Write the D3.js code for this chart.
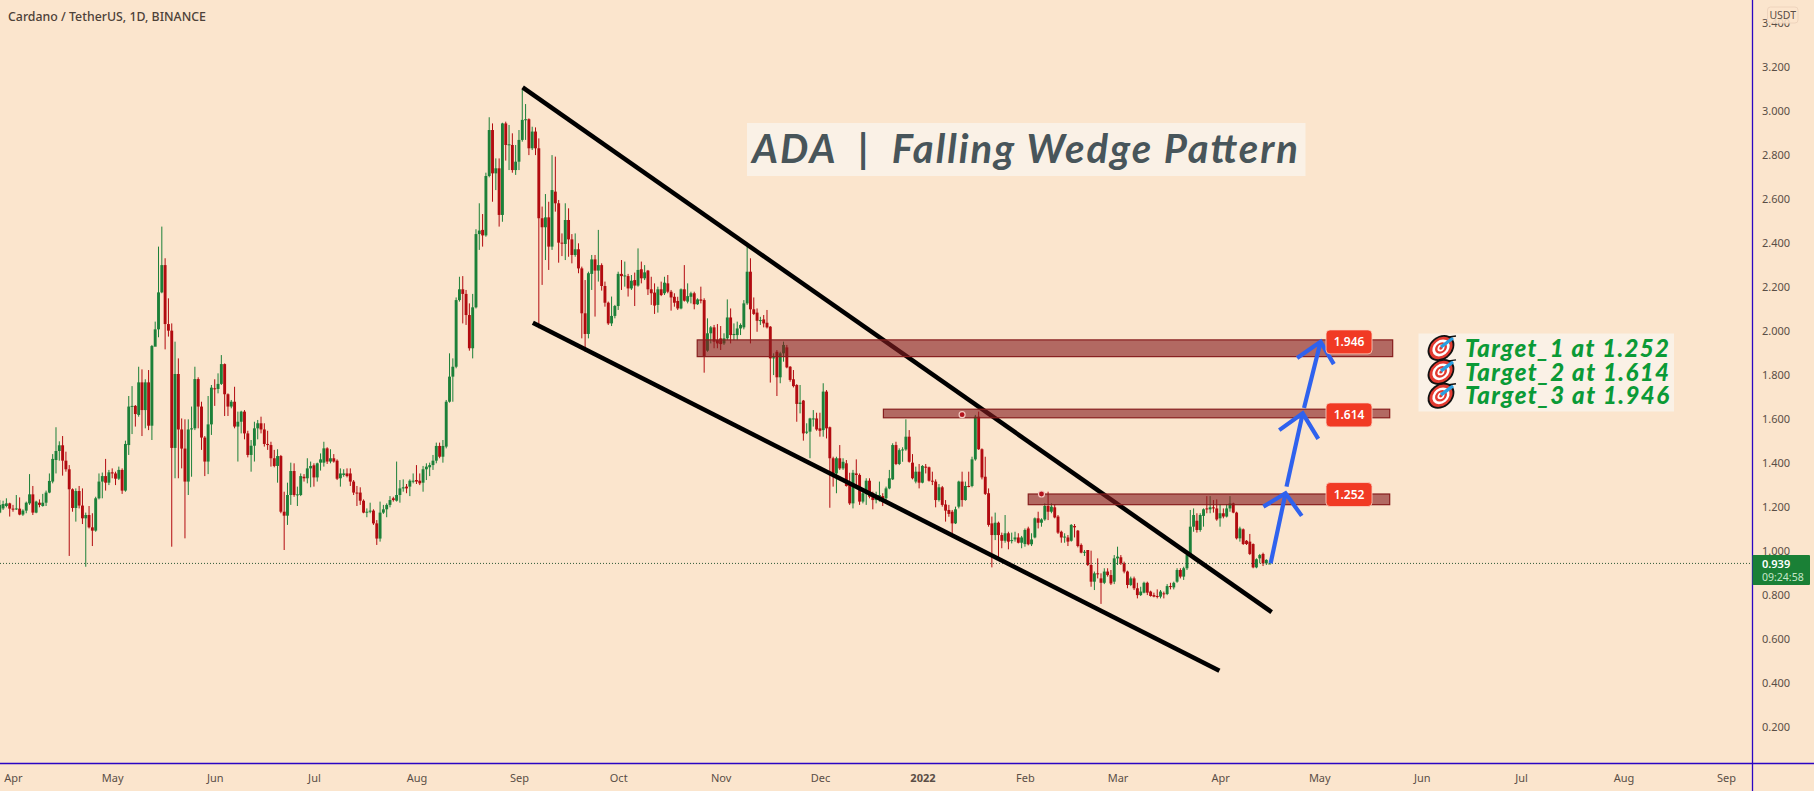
<!DOCTYPE html>
<html>
<head>
<meta charset="utf-8">
<script src="https://cdn.jsdelivr.net/npm/d3@7"></script>
<style>
	html, body { margin: 0; padding: 0; background: #fbe5cd; overflow: hidden; }
	svg { display: block; }
	text { font-family: "Noto Sans", sans-serif; }
</style>
</head>
<body>
<svg id="chart" width="1814" height="791"></svg>
<script>
// daily candles, first one is 28 Mar 2021
const firstCandle = Date.UTC(2021, 2, 28);
const opens = [
	1.170,1.189,1.200,1.212,1.188,1.185,1.188,1.161,1.179,1.212,
	1.253,1.170,1.215,1.200,1.215,1.261,1.311,1.409,1.450,1.476,
	1.406,1.367,1.276,1.191,1.268,1.202,1.144,1.159,1.103,1.088,
	1.235,1.311,1.336,1.306,1.353,1.348,1.324,1.364,1.270,1.477,
	1.652,1.655,1.614,1.762,1.636,1.762,1.565,1.924,2.003,2.171,
	2.295,2.027,1.997,1.464,1.800,1.548,1.461,1.311,1.548,1.553,
	1.777,1.652,1.511,1.402,1.571,1.735,1.732,1.755,1.845,1.708,
	1.652,1.674,1.561,1.583,1.629,1.530,1.432,1.474,1.553,1.576,
	1.548,1.482,1.477,1.417,1.382,1.427,1.174,1.156,1.250,1.359,
	1.250,1.250,1.333,1.326,1.371,1.385,1.330,
	1.397,1.397,1.462,1.402,1.417,1.406,1.326,1.341,1.348,1.348,
	1.311,1.261,1.261,1.224,1.170,1.174,1.179,1.121,1.052,1.170,
	1.185,1.205,1.235,1.224,1.250,1.280,1.288,1.288,1.311,1.318,
	1.315,1.306,1.367,1.376,1.386,1.406,1.473,1.424,1.470,1.674,
	1.788,1.833,2.136,2.185,2.164,2.068,1.917,2.103,2.436,2.455,
	2.430,2.700,2.909,2.712,2.735,2.523,2.939,2.841,2.841,2.727,
	2.765,2.864,2.955,2.958,2.826,2.902,2.826,2.508,2.467,2.512,
	2.379,2.629,2.576,2.397,2.391,2.500,2.412,2.341,2.367,2.280,
	2.076,1.982,2.255,2.321,2.270,2.295,2.200,2.124,2.030,2.064,
	2.109,2.255,2.245,2.245,2.189,2.227,2.202,
	2.276,2.235,2.270,2.185,2.170,2.114,2.185,2.167,2.212,2.174,
	2.151,2.132,2.098,2.185,2.129,2.151,2.167,2.117,2.139,2.136,
	1.906,1.985,2.012,1.954,1.962,1.939,1.962,2.057,1.977,1.977,
	2.007,2.012,2.121,2.265,2.094,2.079,2.042,2.048,2.033,2.015,
	1.871,1.901,1.785,1.894,1.921,1.833,1.776,1.750,1.664,1.679,
	1.533,1.538,1.598,1.598,1.553,1.545,1.720,1.558,1.417,1.348,
	1.417,1.371,1.394,1.303,1.212,1.348,1.341,1.220,1.254,1.315,
	1.258,1.227,1.242,1.245,1.235,1.280,1.321,1.477,1.391,1.454,
	1.457,1.515,1.397,1.311,1.356,1.306,1.379,1.376,1.315,1.311,
	1.227,1.285,1.207,1.182,1.174,1.121,1.197,
	1.311,1.227,1.291,1.291,1.412,1.606,1.458,1.333,1.258,1.121,
	1.068,1.124,1.068,1.042,1.076,1.042,1.048,1.057,1.033,1.027,
	1.098,1.026,1.057,1.144,1.124,1.139,1.200,1.174,1.194,1.152,
	1.083,1.057,1.057,1.042,1.109,1.088,1.023,0.988,1.000,0.932,
	0.856,0.894,0.871,0.851,0.902,0.886,0.856,0.962,0.967,0.939,
	0.902,0.841,0.871,0.826,0.795,0.806,0.851,0.811,0.795,0.791,
	0.788,0.803,0.800,0.836,0.830,0.856,0.909,0.879,0.917,0.977,
	1.106,1.133,1.091,1.155,1.189,1.185,1.194,1.189,1.144,1.167,
	1.152,1.189,1.212,1.170,1.053,1.094,1.042,1.038,1.027,0.921,
	0.962,0.982,0.939,0.939
];
const highs = [
	1.227,1.224,1.235,1.215,1.205,1.250,1.239,1.185,1.220,1.345,
	1.291,1.224,1.230,1.255,1.270,1.348,1.436,1.558,1.494,1.518,
	1.447,1.386,1.280,1.280,1.291,1.280,1.170,1.200,1.167,1.242,
	1.348,1.352,1.414,1.364,1.371,1.356,1.379,1.371,1.497,1.700,
	1.745,1.659,1.833,1.821,1.776,1.818,1.932,2.038,2.379,2.470,
	2.326,2.144,2.030,1.947,1.871,1.598,1.594,1.594,1.652,1.833,
	1.785,1.674,1.518,1.700,1.750,1.776,1.803,1.886,1.848,1.712,
	1.682,1.742,1.629,1.633,1.636,1.542,1.500,1.583,1.591,1.606,
	1.576,1.542,1.492,1.455,1.458,1.432,1.265,1.306,1.397,1.394,
	1.288,1.348,1.345,1.417,1.402,1.394,1.397,
	1.439,1.492,1.467,1.458,1.436,1.412,1.371,1.367,1.371,1.371,
	1.318,1.291,1.285,1.230,1.189,1.215,1.185,1.136,1.220,1.205,
	1.212,1.245,1.242,1.402,1.318,1.321,1.300,1.321,1.348,1.386,
	1.348,1.382,1.394,1.397,1.432,1.488,1.488,1.500,1.682,1.894,
	1.871,2.148,2.242,2.245,2.182,2.121,2.164,2.458,2.576,2.527,
	2.715,2.967,2.939,2.780,2.780,2.942,2.947,2.932,2.894,2.841,
	2.909,3.091,3.027,2.962,2.924,2.921,2.871,2.561,2.618,2.583,
	2.795,2.788,2.591,2.439,2.576,2.553,2.436,2.439,2.394,2.288,
	2.227,2.265,2.341,2.341,2.455,2.303,2.220,2.129,2.152,2.114,
	2.265,2.318,2.311,2.255,2.250,2.261,2.371,
	2.311,2.295,2.273,2.242,2.212,2.197,2.220,2.242,2.250,2.182,
	2.167,2.151,2.189,2.295,2.212,2.174,2.174,2.144,2.197,2.144,
	2.053,2.018,2.023,2.027,2.018,1.985,2.139,2.098,2.030,2.038,
	2.030,2.136,2.379,2.326,2.148,2.098,2.060,2.068,2.091,2.018,
	1.894,1.909,1.901,1.947,1.932,1.836,1.818,1.754,1.750,1.682,
	1.576,1.601,1.636,1.624,1.624,1.758,1.727,1.561,1.424,1.424,
	1.477,1.417,1.409,1.351,1.364,1.412,1.348,1.273,1.326,1.326,
	1.265,1.265,1.311,1.258,1.288,1.364,1.485,1.492,1.462,1.467,
	1.594,1.545,1.436,1.379,1.391,1.386,1.391,1.379,1.356,1.321,
	1.300,1.291,1.227,1.205,1.182,1.197,1.315,
	1.356,1.311,1.356,1.424,1.614,1.629,1.462,1.424,1.280,1.152,
	1.170,1.129,1.079,1.159,1.083,1.079,1.083,1.076,1.064,1.098,
	1.106,1.076,1.148,1.174,1.144,1.212,1.265,1.212,1.209,1.159,
	1.088,1.076,1.068,1.118,1.118,1.091,1.030,1.000,1.000,0.997,
	0.902,0.962,0.894,0.917,0.917,0.909,0.977,1.015,0.977,0.947,
	0.906,0.879,0.879,0.851,0.833,0.856,0.856,0.815,0.806,0.821,
	0.818,0.811,0.845,0.851,0.856,0.917,0.917,0.924,0.992,1.182,
	1.189,1.167,1.167,1.189,1.245,1.245,1.227,1.230,1.209,1.189,
	1.209,1.245,1.215,1.174,1.106,1.098,1.045,1.073,1.030,0.962,
	0.982,0.988,0.958,0.942
];
const lows = [
	1.167,1.182,1.194,1.152,1.174,1.182,1.158,1.155,1.167,1.205,
	1.159,1.167,1.194,1.197,1.200,1.258,1.303,1.348,1.406,1.338,
	1.356,0.973,1.174,1.129,1.189,1.118,0.924,1.098,1.018,1.083,
	1.230,1.235,1.270,1.295,1.326,1.295,1.318,1.255,1.265,1.432,
	1.527,1.561,1.606,1.518,1.553,1.545,1.500,1.947,1.967,2.167,
	1.912,1.970,1.015,1.326,1.326,1.371,1.053,1.250,1.333,1.545,
	1.553,1.455,1.336,1.345,1.523,1.655,1.712,1.750,1.609,1.609,
	1.644,1.553,1.402,1.530,1.503,1.421,1.356,1.402,1.503,1.530,
	1.470,1.455,1.379,1.376,1.306,1.167,1.000,1.114,1.205,1.242,
	1.200,1.245,1.311,1.303,1.285,1.288,1.311,
	1.361,1.379,1.391,1.394,1.397,1.318,1.288,1.333,1.330,1.291,
	1.250,1.200,1.205,1.167,1.149,1.167,1.114,1.023,1.038,1.164,
	1.149,1.194,1.220,1.220,1.215,1.265,1.258,1.245,1.303,1.300,
	1.295,1.265,1.318,1.336,1.364,1.394,1.417,1.397,1.462,1.670,
	1.674,1.826,2.129,2.030,2.023,1.906,1.871,2.098,2.364,2.379,
	2.424,2.694,2.583,2.636,2.470,2.492,2.770,2.727,2.715,2.705,
	2.727,2.856,2.864,2.795,2.818,2.795,2.008,2.205,2.318,2.273,
	2.364,2.538,2.306,2.336,2.318,2.333,2.303,2.333,2.258,1.962,
	1.902,1.962,2.182,2.061,2.220,2.179,2.106,2.023,2.018,2.053,
	2.091,2.182,2.197,2.152,2.182,2.109,2.197,
	2.212,2.227,2.159,2.114,2.073,2.079,2.154,2.159,2.167,2.088,
	2.106,2.091,2.094,2.129,2.121,2.121,2.094,2.114,2.121,1.806,
	1.901,1.939,1.917,1.917,1.909,1.932,1.954,1.939,1.954,1.954,
	1.977,2.003,2.114,1.939,2.068,1.992,2.023,2.012,2.007,1.761,
	1.795,1.700,1.758,1.856,1.826,1.765,1.739,1.583,1.621,1.497,
	1.527,1.417,1.561,1.542,1.515,1.515,1.507,1.192,1.288,1.258,
	1.364,1.364,1.288,1.205,1.189,1.288,1.205,1.212,1.205,1.235,
	1.185,1.212,1.220,1.200,1.227,1.276,1.318,1.386,1.386,1.401,
	1.451,1.397,1.321,1.303,1.280,1.303,1.348,1.311,1.295,1.194,
	1.220,1.197,1.129,1.151,1.076,1.118,1.189,
	1.197,1.224,1.285,1.285,1.406,1.455,1.321,1.250,1.106,0.921,
	1.045,0.955,1.008,1.033,1.003,1.030,1.038,1.030,1.008,1.015,
	1.021,1.018,1.053,1.098,1.106,1.133,1.136,1.167,1.144,1.073,
	1.033,1.033,1.018,1.038,1.057,1.012,0.985,0.973,0.927,0.833,
	0.818,0.871,0.755,0.845,0.879,0.841,0.845,0.932,0.932,0.894,
	0.826,0.836,0.818,0.780,0.791,0.803,0.795,0.788,0.785,0.780,
	0.780,0.780,0.795,0.821,0.821,0.851,0.871,0.864,0.909,0.970,
	1.083,1.079,1.083,1.106,1.167,1.167,1.170,1.133,1.106,1.144,
	1.148,1.174,1.167,1.048,1.038,1.023,1.023,0.977,0.917,0.917,
	0.939,0.927,0.932,0.936
];
const closes = [
	1.205,1.209,1.212,1.188,1.185,1.189,1.161,1.179,1.215,1.253,
	1.170,1.220,1.205,1.215,1.261,1.314,1.414,1.450,1.476,1.406,
	1.367,1.276,1.191,1.268,1.202,1.144,1.159,1.103,1.088,1.235,
	1.311,1.336,1.306,1.353,1.348,1.324,1.364,1.270,1.482,1.652,
	1.655,1.618,1.762,1.636,1.762,1.565,1.927,2.003,2.171,2.295,
	2.027,1.997,1.464,1.800,1.548,1.461,1.311,1.548,1.553,1.777,
	1.652,1.511,1.402,1.571,1.738,1.732,1.755,1.845,1.708,1.652,
	1.674,1.561,1.583,1.629,1.530,1.432,1.474,1.553,1.576,1.548,
	1.482,1.477,1.417,1.382,1.427,1.174,1.156,1.250,1.359,1.250,
	1.253,1.336,1.326,1.371,1.382,1.330,1.394,
	1.412,1.462,1.402,1.417,1.402,1.324,1.348,1.348,1.336,1.311,
	1.261,1.258,1.224,1.170,1.174,1.179,1.121,1.052,1.170,1.185,
	1.205,1.227,1.227,1.250,1.280,1.285,1.280,1.315,1.315,1.311,
	1.303,1.367,1.379,1.386,1.406,1.473,1.424,1.473,1.674,1.788,
	1.833,2.136,2.185,2.164,2.068,1.917,2.103,2.436,2.452,2.430,
	2.700,2.909,2.712,2.735,2.523,2.939,2.841,2.844,2.727,2.765,
	2.864,2.955,2.958,2.826,2.902,2.826,2.508,2.467,2.512,2.379,
	2.636,2.576,2.397,2.394,2.500,2.412,2.341,2.367,2.280,2.076,
	1.982,2.258,2.321,2.270,2.295,2.200,2.124,2.030,2.064,2.109,
	2.255,2.245,2.248,2.189,2.224,2.202,2.273,
	2.235,2.262,2.185,2.167,2.111,2.185,2.159,2.215,2.174,2.148,
	2.124,2.098,2.185,2.133,2.154,2.167,2.117,2.139,2.133,1.879,
	1.985,2.012,1.947,1.939,1.936,1.962,2.057,1.977,1.982,2.007,
	2.023,2.121,2.265,2.094,2.073,2.042,2.045,2.030,2.012,1.871,
	1.876,1.785,1.894,1.932,1.830,1.773,1.745,1.664,1.670,1.530,
	1.538,1.598,1.598,1.548,1.542,1.720,1.553,1.417,1.348,1.417,
	1.371,1.401,1.291,1.212,1.351,1.341,1.220,1.258,1.315,1.242,
	1.227,1.242,1.250,1.235,1.280,1.326,1.477,1.391,1.454,1.457,
	1.515,1.401,1.326,1.356,1.306,1.382,1.374,1.315,1.311,1.227,
	1.285,1.205,1.179,1.164,1.121,1.185,1.311,
	1.227,1.291,1.288,1.412,1.606,1.458,1.330,1.255,1.114,1.068,
	1.124,1.068,1.042,1.076,1.038,1.045,1.057,1.033,1.057,1.091,
	1.026,1.048,1.144,1.124,1.139,1.200,1.174,1.197,1.148,1.079,
	1.057,1.061,1.038,1.114,1.103,1.018,0.988,0.992,0.932,0.856,
	0.894,0.891,0.851,0.902,0.886,0.848,0.962,0.970,0.939,0.902,
	0.841,0.871,0.826,0.795,0.811,0.851,0.806,0.791,0.788,0.788,
	0.811,0.800,0.836,0.833,0.851,0.909,0.879,0.917,0.977,1.106,
	1.159,1.091,1.159,1.185,1.185,1.194,1.189,1.139,1.167,1.152,
	1.189,1.212,1.170,1.053,1.098,1.027,1.027,0.982,0.921,0.958,
	0.977,0.939,0.955,0.939
];

// axes
const priceTicks = [0.2,0.4,0.6,0.8,1.0,1.2,1.4,1.6,1.8,2.0,2.2,2.4,2.6,2.8,3.0,3.2,3.4];
const monthTicks = [
	[2021,3],[2021,4],[2021,5],[2021,6],[2021,7],[2021,8],[2021,9],[2021,10],[2021,11],
	[2022,0],[2022,1],[2022,2],[2022,3],[2022,4],[2022,5],[2022,6],[2022,7],[2022,8]
];
const lastPrice = 0.939;
const countdown = '09:24:58';

// drawings, x in days after 1 Apr 2021, y in price
const wedgeLines = [
	[[154.1, 3.103], [380.6, 0.718]],
	[[157.2, 2.033], [364.8, 0.451]]
];
const zones = [
	{ from: 206.9, to: 417.2, top: 1.955, bottom: 1.879, tag: 1.946 },
	{ from: 263.2, to: 416.3, top: 1.640, bottom: 1.601, tag: 1.614 },
	{ from: 307.0, to: 416.3, top: 1.2545, bottom: 1.206, tag: 1.252 }
];
const zoneDots = [[287, 1.615], [311, 1.2545]];
const tagDay = 404;
const arrows = [
	{ tail: [380.3, 0.9395], tip: [384.8, 1.258], left: [378.1, 1.197], right: [389.7, 1.155] },
	{ tail: [385.1, 1.288], tip: [390.0, 1.621], left: [382.9, 1.545], right: [394.7, 1.505] },
	{ tail: [390.4, 1.645], tip: [395.4, 1.947], left: [388.3, 1.873], right: [399.4, 1.845] }
];
const targetLines = ['Target_1 at 1.252', 'Target_2 at 1.614', 'Target_3 at 1.946'];

const width = 1814, height = 791;
const plotRight = 1752.5, plotBottom = 763.5;
const up = '#1c8039', down = '#b20b10', bg = '#fbe5cd';
const axisColor = '#2a05c4', tickColor = '#5a4e46';

const dayMs = 86400000;
const apr1 = Date.UTC(2021, 3, 1);
const dayDate = d => new Date(apr1 + d * dayMs);

const xScale = d3.scaleUtc()
	.domain([dayDate(0), dayDate(365)])
	.range([13, 13 + 365 * 3.307]);
const yScale = d3.scaleLinear()
	.domain([1, 3])
	.range([550, 110]);
const px = p => xScale(dayDate(p[0]));
const py = p => yScale(p[1]);

const svg = d3.select('#chart');
svg.append('rect').attr('width', width).attr('height', height).attr('fill', bg);

const candles = opens.map((o, i) => ({
	date: new Date(firstCandle + i * dayMs),
	open: o, high: highs[i], low: lows[i], close: closes[i]
}));

// candles
const plot = svg.append('g');
const bars = plot.selectAll('g.candle').data(candles).enter().append('g')
	.attr('class', 'candle')
	.attr('fill', d => d.close >= d.open ? up : down)
	.attr('stroke', d => d.close >= d.open ? up : down);
bars.append('line')
	.attr('x1', d => xScale(d.date))
	.attr('x2', d => xScale(d.date))
	.attr('y1', d => yScale(d.high))
	.attr('y2', d => yScale(d.low))
	.attr('stroke-width', 1);
bars.append('rect')
	.attr('x', d => xScale(d.date) - 1.45)
	.attr('width', 2.9)
	.attr('y', d => yScale(Math.max(d.open, d.close)))
	.attr('height', d => Math.max(1, Math.abs(yScale(d.open) - yScale(d.close))))
	.attr('stroke', 'none');

// last price line
svg.append('line')
	.attr('x1', 0).attr('x2', plotRight)
	.attr('y1', yScale(lastPrice)).attr('y2', yScale(lastPrice))
	.attr('stroke', '#2f5a38').attr('stroke-width', 1).attr('stroke-dasharray', '1 2');

// wedge
svg.selectAll('line.wedge').data(wedgeLines).enter().append('line')
	.attr('class', 'wedge')
	.attr('x1', d => px(d[0])).attr('y1', d => py(d[0]))
	.attr('x2', d => px(d[1])).attr('y2', d => py(d[1]))
	.attr('stroke', '#000').attr('stroke-width', 4.5);

// target zones
svg.selectAll('rect.zone').data(zones).enter().append('rect')
	.attr('class', 'zone')
	.attr('x', d => xScale(dayDate(d.from)))
	.attr('width', d => xScale(dayDate(d.to)) - xScale(dayDate(d.from)))
	.attr('y', d => yScale(d.top))
	.attr('height', d => yScale(d.bottom) - yScale(d.top))
	.attr('fill', 'rgb(132,29,32)').attr('fill-opacity', 0.62)
	.attr('stroke', 'rgb(135,30,30)').attr('stroke-width', 1.2);

svg.selectAll('circle.dot').data(zoneDots).enter().append('circle')
	.attr('class', 'dot')
	.attr('cx', px).attr('cy', py).attr('r', 3)
	.attr('fill', '#b3121c').attr('stroke', '#f4c8c0').attr('stroke-width', 1.2);

// blue arrows
const arrowLine = d3.line();
const arrowG = svg.selectAll('g.arrow').data(arrows).enter().append('g')
	.attr('class', 'arrow')
	.attr('fill', 'none').attr('stroke', '#2f62ee').attr('stroke-width', 4.2);
arrowG.append('path').attr('d', d => arrowLine([[px(d.tail), py(d.tail)], [px(d.tip), py(d.tip)]]));
arrowG.append('path').attr('d', d => arrowLine([[px(d.left), py(d.left)], [px(d.tip), py(d.tip)], [px(d.right), py(d.right)]]));

// value tags
const tags = svg.selectAll('g.tag').data(zones).enter().append('g')
	.attr('class', 'tag')
	.attr('transform', d => `translate(${xScale(dayDate(tagDay))},${yScale(d.tag)})`);
tags.append('rect')
	.attr('x', -23).attr('y', -12).attr('width', 46).attr('height', 24).attr('rx', 4)
	.attr('fill', '#f13a24').attr('stroke', '#fbd9c8').attr('stroke-width', 0.8);
tags.append('text')
	.attr('text-anchor', 'middle').attr('dy', 4)
	.attr('fill', '#fff').attr('font-size', 12).attr('font-weight', 600)
	.text(d => d.tag.toFixed(3));

// title box
svg.append('rect')
	.attr('x', 747).attr('y', 123).attr('width', 558.5).attr('height', 53)
	.attr('fill', '#faf1e6');
svg.append('text')
	.attr('x', 752).attr('y', 163)
	.attr('textLength', 546).attr('lengthAdjust', 'spacing')
	.attr('fill', '#48555a')
	.style('font-family', 'Lato, sans-serif')
	.style('font-style', 'italic').style('font-weight', 700).style('font-size', '40px')
	.text('ADA\u00A0\u00A0|\u00A0\u00A0Falling Wedge Pattern');

// target box
svg.append('rect')
	.attr('x', 1418.5).attr('y', 333.5).attr('width', 255.5).attr('height', 78)
	.attr('fill', '#faf1e6');
const targetRows = svg.selectAll('g.target').data(targetLines).enter().append('g')
	.attr('class', 'target')
	.attr('transform', (d, i) => `translate(0,${i * 23.9})`);
targetRows.append('text')
	.attr('x', 1465).attr('y', 356.7)
	.attr('textLength', 204).attr('lengthAdjust', 'spacing')
	.attr('fill', '#0b9a36')
	.style('font-family', 'Lato, sans-serif')
	.style('font-style', 'italic').style('font-weight', 900).style('font-size', '24px')
	.text(d => d);
const icon = targetRows.append('g').attr('transform', 'translate(1441,348)');
[[13, '#111'], [11.2, '#e23a30'], [8.4, '#fff'], [5.8, '#e23a30'], [3.4, '#fff'], [1.7, '#e23a30']].forEach(r => {
	icon.append('ellipse').attr('rx', r[0]).attr('ry', r[0]).attr('fill', r[1]).attr('transform', 'skewX(-14)');
});
icon.append('line').attr('x1', 0).attr('y1', -1).attr('x2', 12).attr('y2', -10)
	.attr('stroke', '#2b9fe0').attr('stroke-width', 3.4);
icon.append('line').attr('x1', 8).attr('y1', -11).attr('x2', 15).attr('y2', -12)
	.attr('stroke', '#111').attr('stroke-width', 1.4);

// axes
const yAxis = d3.axisRight(yScale).tickValues(priceTicks).tickSize(0).tickPadding(0).tickFormat(d3.format('.3f'));
const yAxisG = svg.append('g').attr('transform', `translate(1762,1)`).call(yAxis);
yAxisG.select('.domain').remove();
yAxisG.selectAll('text').attr('fill', tickColor).attr('font-size', 11).attr('x', 0);

const monthDates = monthTicks.map(m => new Date(Date.UTC(m[0], m[1], 1)));
const xAxis = d3.axisBottom(xScale).tickValues(monthDates).tickSize(0).tickPadding(0)
	.tickFormat(d => d.getUTCMonth() === 0 ? String(d.getUTCFullYear()) : d3.utcFormat('%b')(d));
const xAxisG = svg.append('g').attr('transform', `translate(0,774)`).call(xAxis);
xAxisG.select('.domain').remove();
xAxisG.selectAll('text').attr('fill', tickColor).attr('font-size', 11)
	.attr('font-weight', d => d.getUTCMonth() === 0 ? 700 : 400);

svg.append('line').attr('x1', plotRight).attr('x2', plotRight).attr('y1', 0).attr('y2', height)
	.attr('stroke', axisColor).attr('stroke-width', 1.3);
svg.append('line').attr('x1', 0).attr('x2', width).attr('y1', plotBottom).attr('y2', plotBottom)
	.attr('stroke', axisColor).attr('stroke-width', 1.3);

// header
svg.append('text')
	.attr('x', 8).attr('y', 21)
	.attr('textLength', 198).attr('lengthAdjust', 'spacingAndGlyphs')
	.attr('fill', '#4d4138').attr('font-size', 13).attr('font-weight', 500)
	.text('Cardano / TetherUS, 1D, BINANCE');

// USDT badge
svg.append('rect')
	.attr('x', 1767.5).attr('y', 7).attr('width', 30.5).attr('height', 16).attr('rx', 3)
	.attr('fill', bg).attr('fill-opacity', 0.85).attr('stroke', '#eed4bd');
svg.append('text')
	.attr('x', 1782.7).attr('y', 19).attr('text-anchor', 'middle')
	.attr('fill', tickColor).attr('font-size', 10.5)
	.text('USDT');

// last price tag
svg.append('rect')
	.attr('x', plotRight).attr('y', 555).attr('width', 57.5).attr('height', 30).attr('rx', 1)
	.attr('fill', '#1a8036');
svg.append('text')
	.attr('x', 1762).attr('y', 568)
	.attr('fill', '#fff').attr('font-size', 11).attr('font-weight', 600)
	.text(lastPrice.toFixed(3));
svg.append('text')
	.attr('x', 1762).attr('y', 581)
	.attr('fill', '#c5e6c9').attr('font-size', 10.5)
	.text(countdown);
</script>
</body>
</html>
